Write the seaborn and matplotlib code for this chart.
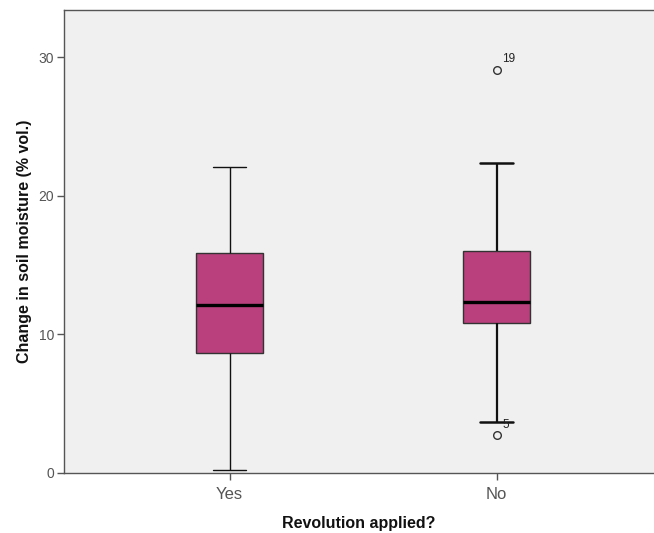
import matplotlib
matplotlib.use("Agg")
import matplotlib.pyplot as plt
import seaborn as sns
import pandas as pd
import numpy as np

# Data (five-number summaries + outliers)
groups = ["Yes", "No"]
yes_values = [0.2, 8.65, 12.1, 15.86, 22.05]
no_values = [2.74, 3.68, 10.8, 10.8, 12.3, 16.0, 16.0, 22.35, 29.1]
outlier_labels = {"No": [(29.1, "19"), (2.74, "5")]}
y_ticks = [0, 10, 20, 30]

df = pd.DataFrame({
    "group": ["Yes"] * len(yes_values) + ["No"] * len(no_values),
    "value": yes_values + no_values,
})

sns.set_theme(style="white")
plt.rcParams["font.family"] = ["Liberation Sans", "DejaVu Sans"]

fig = plt.figure(figsize=(6.54, 5.33), dpi=100)
ax = fig.add_axes([0.098, 0.1126, 0.902, 0.8686])
ax.set_facecolor("#f0f0f0")

sns.boxplot(
    data=df, x="group", y="value", order=groups, ax=ax,
    width=0.25, color="#b9407d", saturation=1, whis=1.5,
    linewidth=1.2, linecolor="#222222",
    medianprops=dict(color="black", linewidth=2.4),
    whiskerprops=dict(color="#111111", linewidth=1.6),
    capprops=dict(color="#111111", linewidth=1.8),
    boxprops=dict(edgecolor="#333333", linewidth=1.0),
    flierprops=dict(marker="o", markerfacecolor="none", markeredgecolor="#333333",
                    markersize=5.5, markeredgewidth=1.0),
)

# thinner whiskers/caps for the first group, as in the reference
for ln in ax.lines:
    xd = np.asarray(ln.get_xdata(), dtype=float)
    if xd.size and np.nanmean(xd) < 0.5 and ln.get_linewidth() < 2.0:
        ln.set_linewidth(1.0)

for i, g in enumerate(groups):
    for val, lab in outlier_labels.get(g, []):
        ax.annotate(lab, (i, val), xytext=(4, 3), textcoords="offset points",
                    fontsize=8.5, color="#222222", ha="left", va="bottom")

ax.set_xlim(-0.62, 1.59)
ax.set_ylim(0, 33.4)
ax.set_yticks(y_ticks)
ax.set_yticklabels([str(t) for t in y_ticks])

ax.tick_params(axis="y", which="both", left=True, length=5, width=1.0,
               color="#555555", labelsize=10, labelcolor="#555555", pad=2)
ax.tick_params(axis="x", which="both", bottom=True, length=5, width=1.0,
               color="#555555", labelsize=12, labelcolor="#555555", pad=5)

ax.set_xlabel("Revolution applied?", fontsize=11.5, fontweight="bold", color="#111111", labelpad=10)
ax.set_ylabel("Change in soil moisture (% vol.)", fontsize=11.5, fontweight="bold", color="#111111", labelpad=5)

for s in ["left", "bottom", "top"]:
    ax.spines[s].set_visible(True)
    ax.spines[s].set_color("#555555")
    ax.spines[s].set_linewidth(1.0)
ax.spines["right"].set_visible(False)

fig.savefig("out.png", dpi=100)
